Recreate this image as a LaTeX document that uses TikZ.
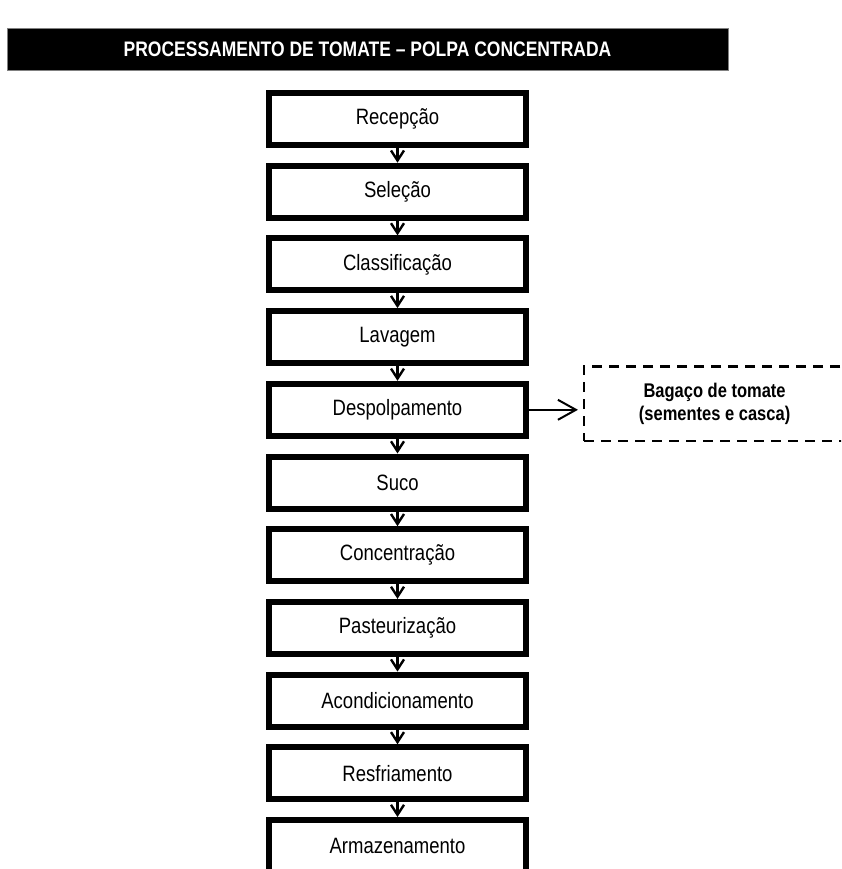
\documentclass[tikz,border=0pt]{standalone}
\usepackage{fontspec}
\setmainfont{Liberation Sans}
\usepackage{graphicx}
\usepackage{xcolor}
\usetikzlibrary{arrows.meta,positioning,calc}
\newcommand{\tall}[1]{\scalebox{1}[1.2]{#1}}
\tikzstyle{titlebar}=[fill=black, draw=gray, line width=0.8pt, minimum width=721pt, minimum height=42pt, inner sep=0pt, text=white, font=\bfseries\fontsize{17.5}{20}\selectfont]
\tikzstyle{stepbox}=[draw, line width=6pt, minimum width=257pt, minimum height=52pt, inner sep=0pt, font=\fontsize{18.5}{20}\selectfont]
\tikzstyle{wastebox}=[draw, dash pattern=on 10pt off 7pt, line width=2.5pt, minimum width=260.75pt, minimum height=74.5pt, inner sep=0pt, align=center, font=\bfseries\fontsize{16.5}{23}\selectfont]
\tikzstyle{flow}=[line width=2.4pt, -{Straight Barb[length=10pt,width=13pt]}]
\tikzstyle{sideflow}=[line width=2pt, -{Straight Barb[length=18pt,width=20pt]}, shorten >=5pt]

\begin{document}
\begin{tikzpicture}[x=1pt, y=-1pt]
	\useasboundingbox (0,0) rectangle (841,869);
	\clip (0,0) rectangle (841,869);
	\node[titlebar] (title) at (367.5,49) {\tall{PROCESSAMENTO DE TOMATE – POLPA CONCENTRADA}};
	% etapas do processo
	\foreach \etapa [count=\i] in {Recepção, Seleção, Classificação, Lavagem, Despolpamento, Suco, Concentração, Pasteurização, Acondicionamento, Resfriamento, Armazenamento}
		\node[stepbox] (s\i) at (397.5,{119+72.7*(\i-1)}) {\tall{\etapa}};
	\foreach \i [evaluate=\i as \j using int(\i+1)] in {1,...,10}
		\draw[flow] (s\i.south) -- (s\j.north);
	% residuo
	\node[wastebox] (bagaco) at (714.6,403.5) {\tall{Bagaço de tomate}\\\tall{(sementes e casca)}};
	\draw[sideflow] (s5.east) -- (s5.east -| bagaco.west);
\end{tikzpicture}
\end{document}
